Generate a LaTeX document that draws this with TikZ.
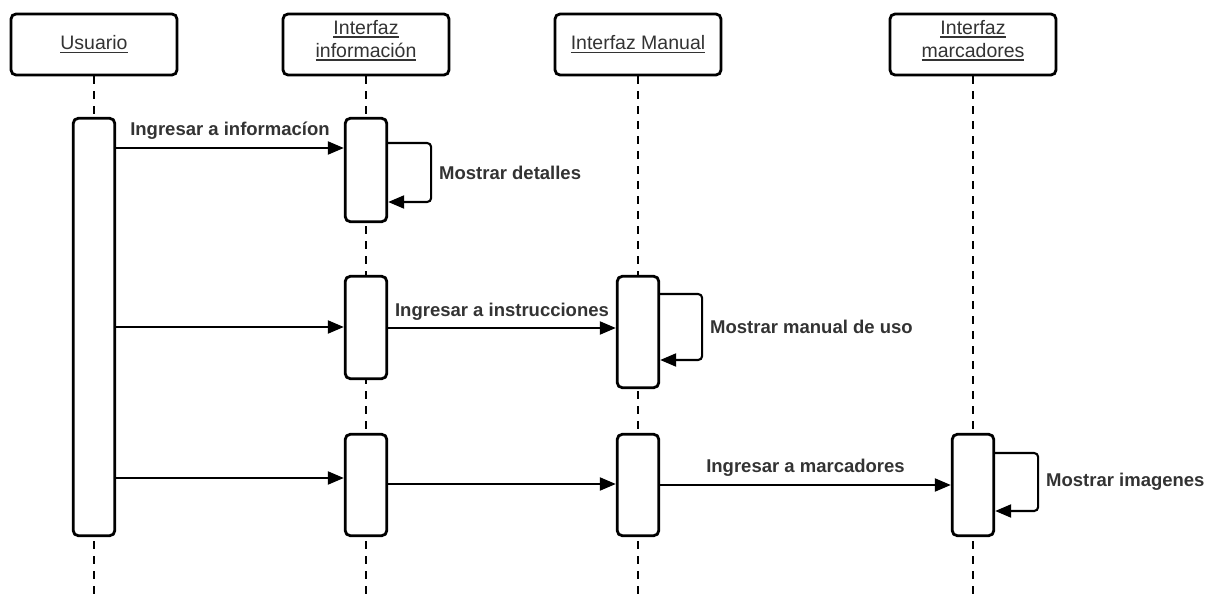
\documentclass[tikz,border=0pt]{standalone}
\usepackage{fontspec}
\setmainfont{Liberation Sans}
\usetikzlibrary{arrows.meta}
\definecolor{txt}{HTML}{333333}
% underline with a heavier rule than \underline gives
\newcommand\myul[1]{\setbox0\hbox{#1}\rlap{\rule[-3.2pt]{\wd0}{1.3pt}}\box0}
\begin{document}
\begin{tikzpicture}[x=1pt,y=-1pt,
  head/.style={draw, line width=2.8pt, rounded corners=5pt, fill=white,
    minimum width=166pt, minimum height=61pt, inner sep=0pt,
    text=txt, align=center, font=\fontsize{19.5}{23}\selectfont},
  act/.style={draw, line width=2.8pt, rounded corners=5pt, fill=white,
    minimum width=41.5pt, inner sep=0pt},
  life/.style={line width=1.9pt, dash pattern=on 8pt off 7pt},
  msg/.style={line width=2.1pt, -{Triangle[length=16pt,width=13pt]}},
  loopmsg/.style={msg, rounded corners=4pt},
  lbl/.style={text=txt, inner sep=0pt, font=\bfseries\fontsize{18.5}{22}\selectfont}]

\fill[white] (0,0) rectangle (1211,597);
\useasboundingbox (0,0) rectangle (1211,597);

% lifeline heads
\node[head] (hu) at (94,44.5) {\myul{Usuario}};
\node[head, text depth=11pt] (hi) at (366,44.5) {\myul{Interfaz}\\\myul{información}};
\node[head] (hm) at (638,44.5) {\myul{Interfaz Manual}};
\node[head, text depth=11pt] (hk) at (973,44.5) {\myul{Interfaz}\\\myul{marcadores}};

% lifelines
\coordinate (bottom) at (0,597);
\foreach \h in {hu,hi,hm,hk}
  \draw[life] (\h.south) -- (\h.south |- bottom);

% activation bars
\node[act, minimum height=417.4pt] (u1) at (94,327) {};
\node[act, minimum height=103.4pt] (i1) at (366,170) {};
\node[act, minimum height=102.4pt] (i2) at (366,327.5) {};
\node[act, minimum height=101.4pt] (i3) at (366,485) {};
\node[act, minimum height=111.4pt] (m1) at (638,332) {};
\node[act, minimum height=101.4pt] (m2) at (638,485) {};
\node[act, minimum height=101.4pt] (k1) at (973,485) {};

% message levels
\coordinate (ya) at (0,148);
\coordinate (yb) at (0,143);
\coordinate (yc) at (0,202);
\coordinate (yd) at (0,327);
\coordinate (ye) at (0,328);
\coordinate (yf) at (0,294);
\coordinate (yg) at (0,360);
\coordinate (yh) at (0,478);
\coordinate (yi) at (0,484);
\coordinate (yj) at (0,485);
\coordinate (yk) at (0,453);
\coordinate (yl) at (0,511);

% first exchange
\draw[msg] (u1.east |- ya) -- (i1.west |- ya)
  node[midway, lbl, anchor=base, yshift=12.4pt] {Ingresar a informacíon};
\draw[loopmsg] (i1.east |- yb) -- ++(43,0) |-
  node[pos=.25, lbl, anchor=west, xshift=7pt] {Mostrar detalles} (i1.east |- yc);

% second exchange
\draw[msg] (u1.east |- yd) -- (i2.west |- yd);
\draw[msg] (i2.east |- ye) -- (m1.west |- ye)
  node[midway, lbl, anchor=base, yshift=11.6pt] {Ingresar a instrucciones};
\draw[loopmsg] (m1.east |- yf) -- ++(42,0) |-
  node[pos=.25, lbl, anchor=west, xshift=7pt] {Mostrar manual de uso} (m1.east |- yg);

% third exchange
\draw[msg] (u1.east |- yh) -- (i3.west |- yh);
\draw[msg] (i3.east |- yi) -- (m2.west |- yi);
\draw[msg] (m2.east |- yj) -- (k1.west |- yj)
  node[midway, lbl, anchor=base, yshift=12.4pt] {Ingresar a marcadores};
\draw[loopmsg] (k1.east |- yk) -- ++(43,0) |-
  node[pos=.25, lbl, anchor=west, xshift=7pt] {Mostrar imagenes} (k1.east |- yl);
\end{tikzpicture}
\end{document}
